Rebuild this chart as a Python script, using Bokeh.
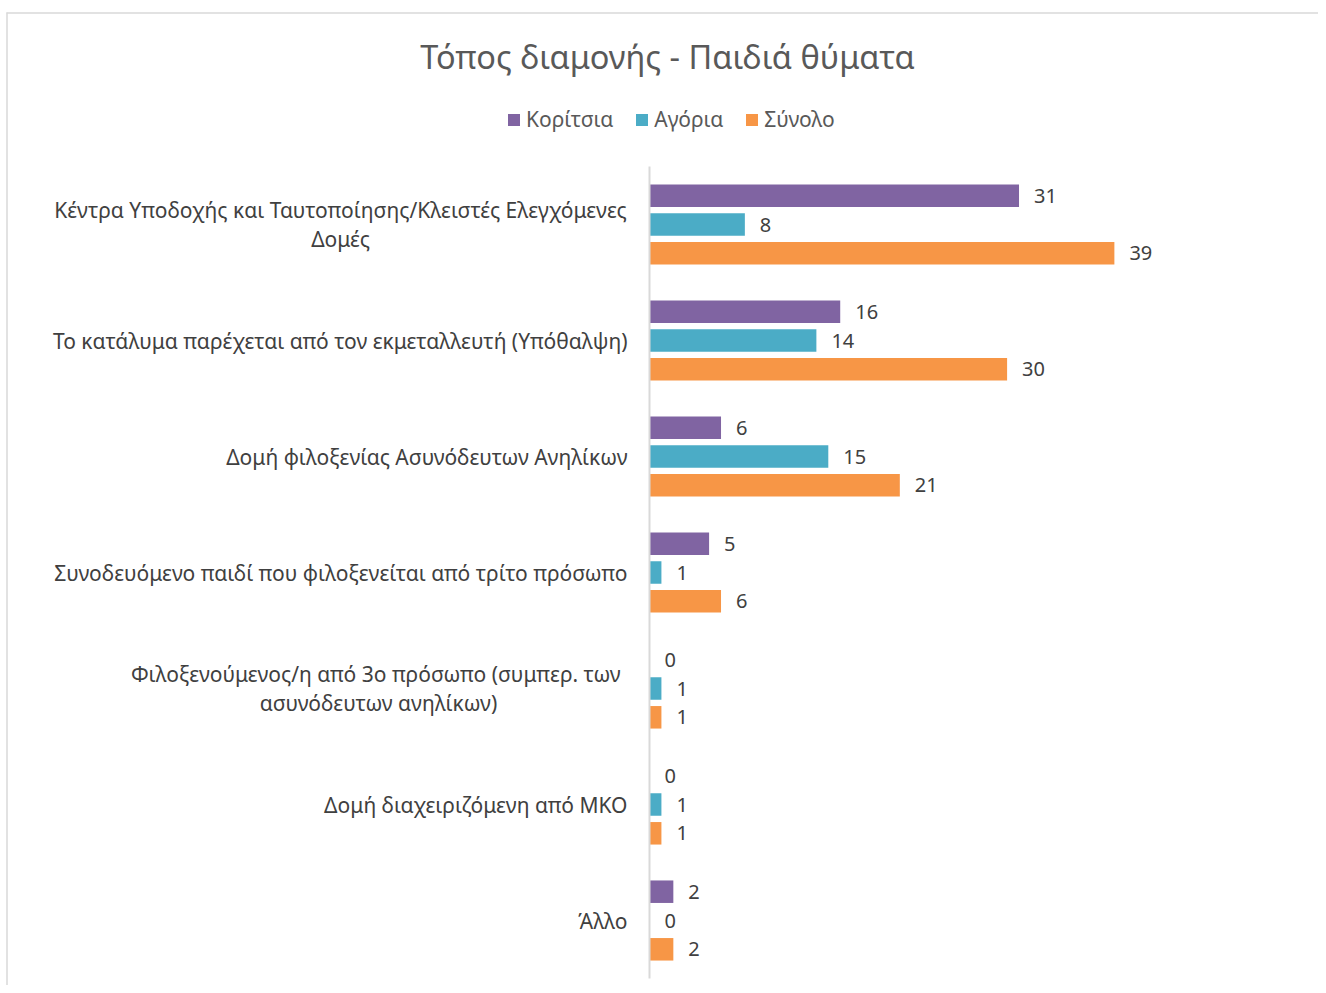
from bokeh.plotting import figure
from bokeh.models import Range1d, ColumnDataSource, Legend, LegendItem, Label
from bokeh.embed import file_html
from bokeh.resources import INLINE
from bokeh.core.properties import value

# ---------------- data ----------------
chart_title = "Τόπος διαμονής - Παιδιά θύματα"
categories = [
    ["Κέντρα Υποδοχής και Ταυτοποίησης/Κλειστές Ελεγχόμενες", "Δομές"],
    ["Το κατάλυμα παρέχεται από τον εκμεταλλευτή (Υπόθαλψη)"],
    ["Δομή φιλοξενίας Ασυνόδευτων Ανηλίκων"],
    ["Συνοδευόμενο παιδί που φιλοξενείται από τρίτο πρόσωπο"],
    ["Φιλοξενούμενος/η  από 3ο πρόσωπο (συμπερ. των", "ασυνόδευτων ανηλίκων)"],
    ["Δομή διαχειριζόμενη από ΜΚΟ"],
    ["Άλλο"],
]
series_names = ["Κορίτσια", "Αγόρια", "Σύνολο"]
girls = [31, 16, 6, 5, 0, 0, 2]
boys = [8, 14, 15, 1, 1, 1, 0]
total = [39, 30, 21, 6, 1, 1, 2]

# ---------------- layout / style ----------------
W, H = 1318, 985
PXX = 11.92          # pixels per unit on value axis
ZERO_PX = 649.0      # x pixel of value 0 inside the figure
Y0_PX = 224.0        # y pixel of first category center
CAT_PX = 116.0       # pixels per category
BAR_STEP = 28.8 / CAT_PX
BAR_H = 22.5 / CAT_PX
FONT = "Noto Sans"
colors = ["#8064A2", "#4BACC6", "#F79646"]

x_start = -ZERO_PX / PXX
x_end = (W - ZERO_PX) / PXX
y_top = -Y0_PX / CAT_PX
y_bottom = (H - Y0_PX) / CAT_PX


def px_x(px):
    return x_start + px / PXX


def px_y(py):
    return y_top + py / CAT_PX


p = figure(width=W, height=H,
           x_range=Range1d(x_start, x_end),
           y_range=Range1d(y_bottom, y_top),
           min_border=0, toolbar_location=None, output_backend="svg",
           x_axis_location=None, y_axis_location=None,
           outline_line_color=None, background_fill_color="white",
           border_fill_color="white")
p.grid.visible = False

n = len(categories)
idx = list(range(n))

# chart border (left & top only visible)
p.segment(x0=[px_x(6.5), px_x(6)], y0=[px_y(12), px_y(12.5)],
          x1=[px_x(6.5), px_x(W)], y1=[px_y(H), px_y(12.5)],
          line_color="#d9d9d9", line_width=1.5)

renderers = []
for k, (vals, col) in enumerate(zip([girls, boys, total], colors)):
    ys = [i + (k - 1) * BAR_STEP for i in idx]
    src = ColumnDataSource(dict(y=ys, v=vals, t=[str(v) for v in vals]))
    r = p.hbar(y="y", left=0, right="v", height=BAR_H, source=src,
               fill_color=col, line_color=None)
    renderers.append(r)
    p.text(x="v", y="y", text="t", source=src, x_offset=15,
           text_align="left", text_baseline="middle",
           text_font=value(FONT), text_font_size="20px", text_color="#404040")

# vertical axis line
p.segment(x0=[0], y0=[-0.5], x1=[0], y1=[n - 0.5], line_color="#d9d9d9", line_width=2)

# category labels
LINE_GAP = 14.5 / CAT_PX
second_center = {0: -309, 4: -271}
for i, lines in enumerate(categories):
    if len(lines) == 1:
        p.text(x=[0], y=[i], text=[lines[0]], x_offset=-22,
               text_align="right", text_baseline="middle",
               text_font=value(FONT), text_font_size="21px", text_color="#404040")
    else:
        c = second_center[i]
        p.text(x=[0, 0], y=[i - LINE_GAP, i + LINE_GAP], text=lines, x_offset=c,
               text_align="center", text_baseline="middle",
               text_font=value(FONT), text_font_size="21px", text_color="#404040")

# title
p.add_layout(Label(x=px_x(667), y=px_y(56), text=chart_title,
                   text_align="center", text_baseline="middle",
                   text_font=FONT, text_font_size="32.5px", text_color="#595959"))

# legend
legend = Legend(items=[LegendItem(label=nm, renderers=[r]) for nm, r in zip(series_names, renderers)],
                orientation="horizontal", location=(506, 852),
                glyph_width=15, glyph_height=15, label_standoff=5, spacing=21,
                padding=0, margin=0, border_line_color=None, background_fill_alpha=0,
                label_text_font=FONT, label_text_font_size="21px",
                label_text_color="#595959", label_height=20)
p.add_layout(legend)

open("out.html", "w").write(file_html(p, INLINE))
